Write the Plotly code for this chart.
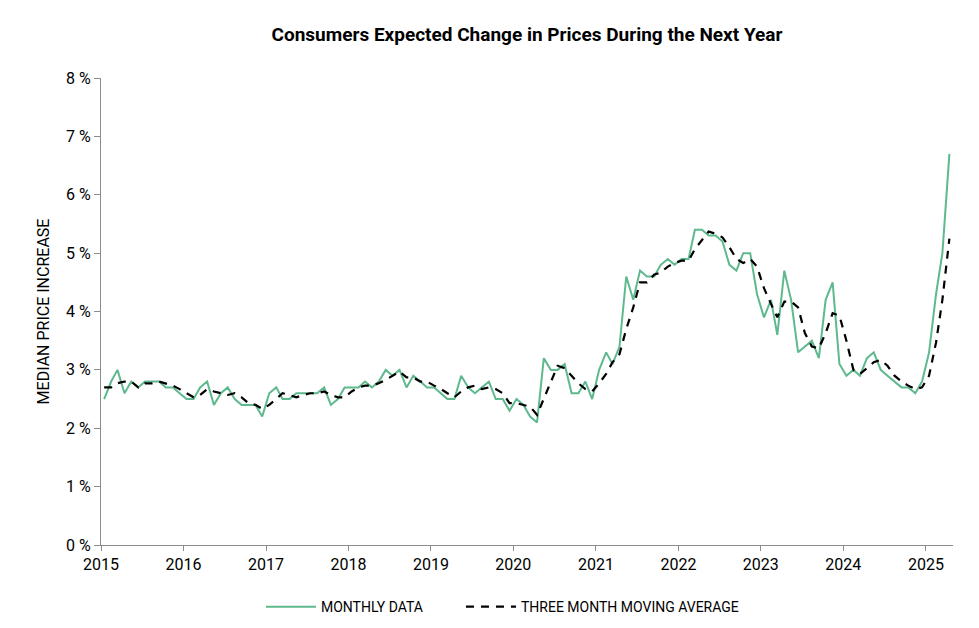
import pandas as pd
import plotly.graph_objects as go

# median expected price change over the next year, percent, Jan 2015 - Apr 2025
monthly = [
    2.5, 2.8, 3.0, 2.6, 2.8, 2.7, 2.8, 2.8, 2.8, 2.7, 2.7, 2.6,  # 2015
    2.5, 2.5, 2.7, 2.8, 2.4, 2.6, 2.7, 2.5, 2.4, 2.4, 2.4, 2.2,  # 2016
    2.6, 2.7, 2.5, 2.5, 2.6, 2.6, 2.6, 2.6, 2.7, 2.4, 2.5, 2.7,  # 2017
    2.7, 2.7, 2.8, 2.7, 2.8, 3.0, 2.9, 3.0, 2.7, 2.9, 2.8, 2.7,  # 2018
    2.7, 2.6, 2.5, 2.5, 2.9, 2.7, 2.6, 2.7, 2.8, 2.5, 2.5, 2.3,  # 2019
    2.5, 2.4, 2.2, 2.1, 3.2, 3.0, 3.0, 3.1, 2.6, 2.6, 2.8, 2.5,  # 2020
    3.0, 3.3, 3.1, 3.4, 4.6, 4.2, 4.7, 4.6, 4.6, 4.8, 4.9, 4.8,  # 2021
    4.9, 4.9, 5.4, 5.4, 5.3, 5.3, 5.2, 4.8, 4.7, 5.0, 5.0, 4.3,  # 2022
    3.9, 4.2, 3.6, 4.7, 4.2, 3.3, 3.4, 3.5, 3.2, 4.2, 4.5, 3.1,  # 2023
    2.9, 3.0, 2.9, 3.2, 3.3, 3.0, 2.9, 2.8, 2.7, 2.7, 2.6, 2.8,  # 2024
    3.3, 4.3, 5.0, 6.7,                                          # 2025
]

moving_avg = [
    2.70, 2.70, 2.77, 2.80, 2.80, 2.70, 2.77, 2.77, 2.80, 2.77, 2.73, 2.67,
    2.60, 2.53, 2.57, 2.67, 2.63, 2.60, 2.57, 2.60, 2.53, 2.43, 2.40, 2.33,
    2.40, 2.50, 2.60, 2.57, 2.53, 2.57, 2.60, 2.60, 2.63, 2.57, 2.53, 2.53,
    2.63, 2.70, 2.73, 2.73, 2.77, 2.83, 2.90, 2.97, 2.87, 2.87, 2.80, 2.80,
    2.73, 2.67, 2.60, 2.53, 2.63, 2.70, 2.73, 2.67, 2.70, 2.67, 2.60, 2.43,
    2.43, 2.40, 2.37, 2.23, 2.50, 2.77, 3.07, 3.03, 2.90, 2.77, 2.67, 2.63,
    2.77, 2.93, 3.13, 3.27, 3.70, 4.07, 4.50, 4.50, 4.63, 4.67, 4.77, 4.83,
    4.87, 4.87, 5.07, 5.23, 5.37, 5.33, 5.27, 5.10, 4.90, 4.83, 4.90, 4.77,
    4.40, 4.13, 3.90, 4.17, 4.17, 4.07, 3.63, 3.40, 3.37, 3.63, 3.97, 3.93,
    3.50, 3.00, 2.93, 3.03, 3.13, 3.17, 3.07, 2.90, 2.80, 2.73, 2.67, 2.70,
    2.90, 3.47, 4.20, 5.25,
]

year_ticks = [str(y) for y in range(2015, 2026)]
y_ticks = list(range(0, 9))

# points sit mid-month
dates = pd.date_range("2015-01-01", periods=len(monthly), freq="MS") + pd.Timedelta(days=14)

FONT = "Roboto, Arial, sans-serif"
GREEN = "#5fb98e"
AXIS = "#8c8c8c"

fig = go.Figure()
fig.add_trace(go.Scatter(
    x=dates, y=monthly, mode="lines", name="MONTHLY DATA",
    line=dict(color=GREEN, width=2), legend="legend",
))
fig.add_trace(go.Scatter(
    x=dates, y=moving_avg, mode="lines", name="THREE MONTH MOVING AVERAGE",
    line=dict(color="black", width=2.2, dash="8px,7px"), legend="legend2",
))

legend_style = dict(
    orientation="h", xanchor="left", y=-0.133, yanchor="middle",
    font=dict(size=14, family=FONT), itemwidth=50, bgcolor="rgba(0,0,0,0)",
)

# page body has an 8px margin, so the figure sits 8px right and down
fig.update_layout(
    width=979, height=628,
    margin=dict(l=93, r=34, t=70, b=91, autoexpand=False),
    paper_bgcolor="white", plot_bgcolor="white",
    font=dict(family=FONT, size=16, color="black"),
    title=dict(
        text="<b>Consumers Expected Change in Prices During the Next Year</b>",
        x=0.5, xref="paper", xanchor="center",
        y=1 - 26 / 628, yref="container", yanchor="middle",
        font=dict(size=19, family=FONT, color="black"),
    ),
    showlegend=True,
    legend=dict(x=0.1877, **legend_style),
    legend2=dict(x=0.4225, **legend_style),
)

fig.update_xaxes(
    range=["2015-01-01", "2025-05-01"],
    tickvals=[f"{y}-01-01" for y in year_ticks], ticktext=year_ticks,
    showgrid=False, zeroline=False,
    showline=True, linecolor=AXIS, linewidth=1,
    ticks="outside", ticklen=5, tickcolor=AXIS,
    tickfont=dict(size=16),
    automargin=False,
)
fig.update_yaxes(
    range=[0, 8], tickvals=y_ticks, ticktext=[f"{v} %" for v in y_ticks],
    showgrid=False, zeroline=False,
    showline=True, linecolor=AXIS, linewidth=1,
    ticks="outside", ticklen=6, tickcolor=AXIS,
    tickfont=dict(size=16),
    automargin=False,
    title=dict(text="MEDIAN PRICE INCREASE", font=dict(size=16), standoff=12),
)

fig.write_html("out.html")
